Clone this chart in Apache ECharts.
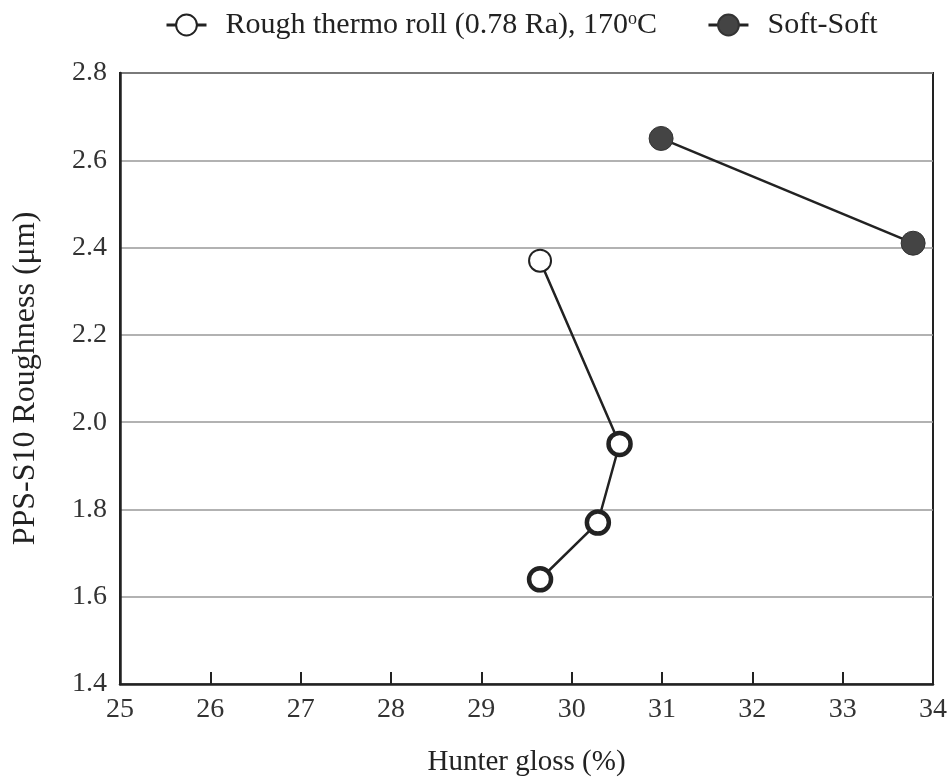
<!DOCTYPE html>
<html>
<head>
<meta charset="utf-8">
<script src="https://cdn.jsdelivr.net/npm/echarts@6/dist/echarts.min.js"></script>
<style>
  html, body { margin: 0; padding: 0; background: #fff; }
  #chart { width: 952px; height: 782px; }
</style>
</head>
<body>
<div id="chart"></div>
<script>
// data
var roughGloss = [29.65, 30.53, 30.29, 29.65];
var roughRa = [2.37, 1.95, 1.77, 1.64];
var softGloss = [30.99, 33.78];
var softRa = [2.65, 2.41];
var xTicks = [25, 26, 27, 28, 29, 30, 31, 32, 33, 34];
var yTicks = [1.4, 1.6, 1.8, 2.0, 2.2, 2.4, 2.6, 2.8];

var myChart = echarts.init(document.getElementById('chart'));

function pairs(xs, ys) {
    var out = [];
    for (var i = 0; i < xs.length; i++) out.push([xs[i], ys[i]]);
    return out;
}

// top point has a thinner ring than the others
var roughData = pairs(roughGloss, roughRa).map(function (p, i) {
    return {
        value: p,
        itemStyle: { borderWidth: i == 0 ? 2 : 4.5 }
    };
});

var font = 'Liberation Serif';

option = {
    backgroundColor: '#fff',
    textStyle: { fontFamily: font },
    legend: {
        top: 5,
        left: 160,
        itemGap: 50,
        itemWidth: 40,
        itemHeight: 26,
        lineStyle: { width: 3, color: '#222' },
        textStyle: {
            fontFamily: font,
            fontSize: 30,
            color: '#222',
            padding: [0, 0, 0, 14],
            rich: {
                sup: { fontSize: 18, verticalAlign: 'top', padding: [0, 0, 12, 0], fontFamily: font, color: '#222' }
            }
        },
        formatter: function (name) {
            if (name.indexOf('170') >= 0) return 'Rough thermo roll (0.78 Ra), 170{sup|o}C';
            return name;
        },
        data: ['Rough thermo roll (0.78 Ra), 170C', 'Soft-Soft']
    },
    grid: {
        left: 120,
        top: 73,
        width: 813,
        height: 612,
        show: true,
        borderColor: '#222',
        borderWidth: 2
    },
    xAxis: {
        type: 'value',
        min: xTicks[0],
        max: xTicks[xTicks.length - 1],
        interval: 1,
        name: 'Hunter gloss (%)',
        nameLocation: 'middle',
        nameGap: 64,
        nameTextStyle: { fontFamily: font, fontSize: 29, color: '#222' },
        axisLine: { lineStyle: { color: '#222', width: 2.5 } },
        axisTick: { inside: true, length: 12, lineStyle: { color: '#222', width: 2 } },
        axisLabel: { fontFamily: font, fontSize: 28, color: '#333', margin: 12 },
        splitLine: { show: false }
    },
    yAxis: {
        type: 'value',
        min: yTicks[0],
        max: yTicks[yTicks.length - 1],
        interval: 0.2,
        name: 'PPS-S10 Roughness (\u03bcm)',
        nameLocation: 'middle',
        nameGap: 78,
        nameTextStyle: { fontFamily: font, fontSize: 32, color: '#222' },
        axisLine: { lineStyle: { color: '#222', width: 2.5 } },
        axisTick: { show: false },
        axisLabel: {
            fontFamily: font, fontSize: 28, color: '#333', margin: 13,
            formatter: function (v) { return v.toFixed(1); }
        },
        splitLine: { lineStyle: { color: '#999', width: 1.5 } }
    },
    series: [
        {
            name: 'Rough thermo roll (0.78 Ra), 170C',
            type: 'line',
            data: roughData,
            symbol: 'circle',
            symbolSize: 22,
            lineStyle: { color: '#222', width: 2.5 },
            itemStyle: { color: '#fff', borderColor: '#222', borderWidth: 3 },
            z: 3
        },
        {
            name: 'Soft-Soft',
            type: 'line',
            data: pairs(softGloss, softRa),
            symbol: 'circle',
            symbolSize: 24,
            lineStyle: { color: '#222', width: 2.5 },
            itemStyle: { color: '#444', borderColor: '#333', borderWidth: 1 },
            z: 3
        }
    ]
};

myChart.setOption(option);
</script>
</body>
</html>
